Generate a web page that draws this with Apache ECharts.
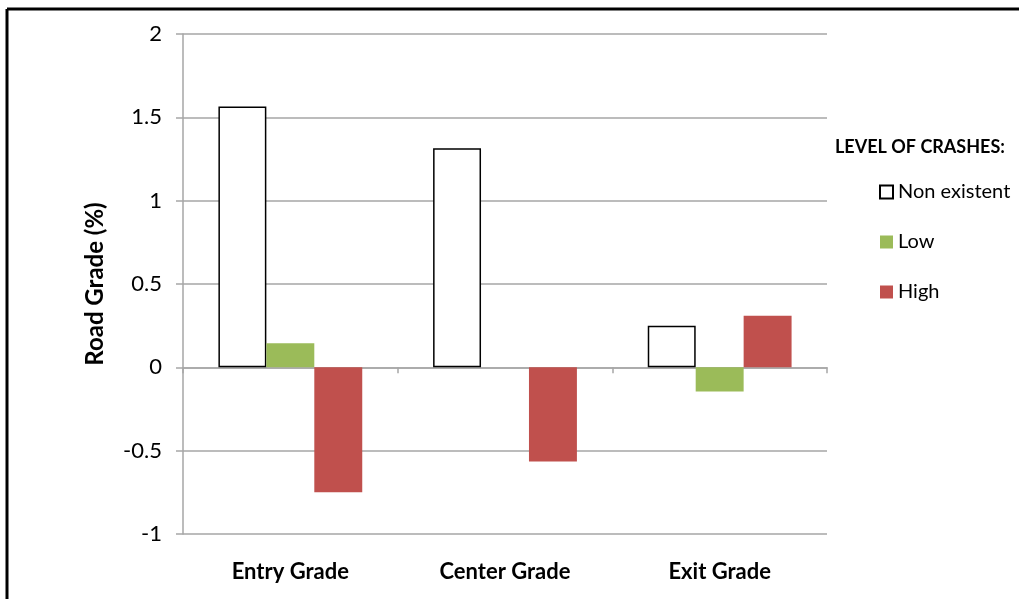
<!DOCTYPE html>
<html>
<head>
<meta charset="utf-8">
<script src="https://cdn.jsdelivr.net/npm/echarts@6/dist/echarts.min.js"></script>
<style>
  html, body { margin: 0; padding: 0; background: #fff; }
  #chart { width: 1019px; height: 599px; }
</style>
</head>
<body>
<div id="chart"></div>
<script>
// data
const categories = ['Entry Grade', 'Center Grade', 'Exit Grade']
const nonExistent = [1.565, 1.315, 0.25]
const low = [0.145, 0, -0.145]
const high = [-0.75, -0.565, 0.31]

const FONT = 'Lato'
const gridGray = '#a6a6a6'

const chart = echarts.init(document.getElementById('chart'))
const option = {
  backgroundColor: '#fff',
  animation: false,
  textStyle: { fontFamily: FONT },
  title: {
    text: 'LEVEL OF CRASHES:',
    left: 830,
    top: 133,
    textStyle: { fontSize: 18, fontWeight: 'bold', color: '#000', fontFamily: FONT }
  },
  legend: {
    orient: 'vertical',
    left: 874,
    top: 177,
    icon: 'rect',
    itemWidth: 13,
    itemHeight: 13,
    itemGap: 30,
    textStyle: { fontSize: 20, color: '#000', fontFamily: FONT, padding: [0, 0, 0, 0] },
    data: ['Non existent', 'Low', 'High']
  },
  grid: { left: 183, right: 192, top: 34, bottom: 65, containLabel: false },
  xAxis: [
    {
      type: 'category',
      data: categories,
      position: 'bottom',
      axisLine: { show: false, onZero: false },
      axisTick: { show: false },
      axisLabel: { fontSize: 22, fontWeight: 'bold', color: '#000', margin: 27, fontFamily: FONT }
    },
    {
      type: 'category',
      data: categories,
      position: 'bottom',
      axisLine: { show: true, onZero: true, lineStyle: { color: gridGray, width: 1.5 } },
      axisTick: { show: true, length: 6, lineStyle: { color: gridGray, width: 1.5 } },
      axisLabel: { show: false }
    }
  ],
  yAxis: {
    type: 'value',
    min: -1,
    max: 2,
    interval: 0.5,
    name: 'Road Grade (%)',
    nameLocation: 'middle',
    nameGap: 76,
    nameTextStyle: { fontSize: 24, fontWeight: 'bold', color: '#000', fontFamily: FONT },
    axisLine: { show: true, lineStyle: { color: gridGray, width: 1.5 } },
    axisTick: { show: true, length: 7, lineStyle: { color: gridGray, width: 1.5 } },
    axisLabel: { fontSize: 22, color: '#000', margin: 21, fontFamily: FONT },
    splitLine: { show: true, lineStyle: { color: gridGray, width: 1.5 } }
  },
  series: [
    {
      name: 'Non existent',
      type: 'bar',
      xAxisIndex: 0,
      data: nonExistent,
      barGap: 0,
      barCategoryGap: '33%',
      itemStyle: { color: '#fff', borderColor: '#000', borderWidth: 1.5 }
    },
    {
      name: 'Low',
      type: 'bar',
      xAxisIndex: 0,
      data: low,
      itemStyle: { color: '#9bbb59' }
    },
    {
      name: 'High',
      type: 'bar',
      xAxisIndex: 0,
      data: high,
      itemStyle: { color: '#c0504d' }
    }
  ],
  graphic: [
    // frame round the figure (top and left edges visible)
    { type: 'line', shape: { x1: 7, y1: 9, x2: 1019, y2: 9 }, style: { stroke: '#000', lineWidth: 3 } },
    { type: 'line', shape: { x1: 7, y1: 9, x2: 7, y2: 599 }, style: { stroke: '#000', lineWidth: 3 } }
  ]
}
chart.setOption(option)
</script>
</body>
</html>
